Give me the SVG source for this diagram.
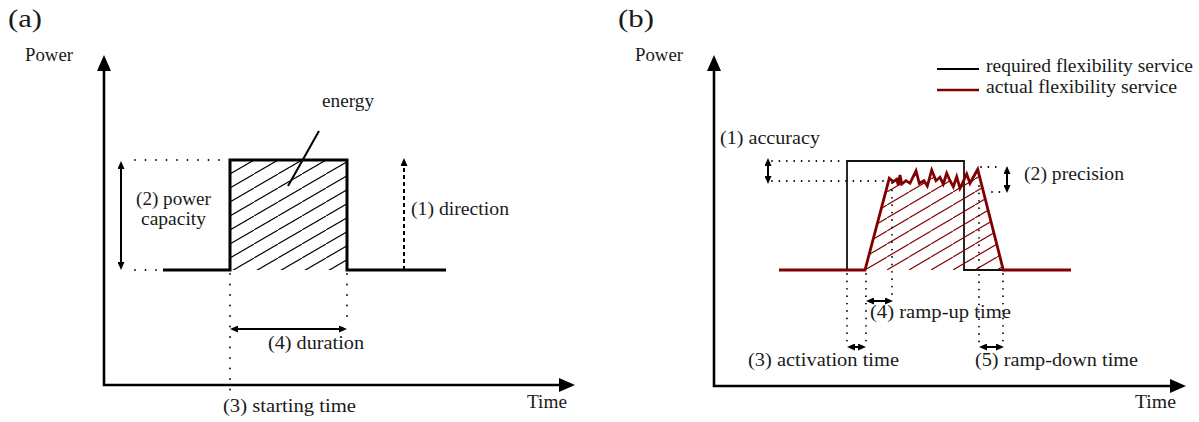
<svg xmlns="http://www.w3.org/2000/svg" width="1199" height="422" viewBox="0 0 1199 422" font-family="Liberation Serif, Times New Roman, serif">
<style>
text{font-size:18.5px;fill:#1a1a1a}
.big{font-size:26px}
.ax{fill:none;stroke:#000;stroke-width:2.6;marker-start:url(#axh);marker-end:url(#axh)}
.dot{fill:none;stroke:#000;stroke-width:1.8;stroke-linecap:round}
.da{stroke-dasharray:0 10.5}
.db{stroke-dasharray:0 7.4}
.arr{fill:none;stroke:#000;stroke-width:2;marker-start:url(#sh);marker-end:url(#sh)}
</style>
<defs>
<marker id="axh" viewBox="0 0 16 14" refX="8" refY="7" markerWidth="16" markerHeight="14" markerUnits="userSpaceOnUse" orient="auto-start-reverse">
<path d="M0,0 L16,7 L0,14 Z" fill="#000"/>
</marker>
<marker id="sh" viewBox="0 0 8 7" refX="4" refY="3.5" markerWidth="8" markerHeight="7" markerUnits="userSpaceOnUse" orient="auto-start-reverse">
<path d="M0,0 L8,3.5 L0,7 Z" fill="#000"/>
</marker>
<pattern id="hatchA" patternUnits="userSpaceOnUse" x="230" y="160" width="24" height="14">
<path d="M-3,15.75 L27,-1.75" stroke="#000" stroke-width="1.1"/>
</pattern>
<pattern id="hatchB" patternUnits="userSpaceOnUse" x="865" y="270" width="22" height="13">
<path d="M-3,14.77 L25,-1.77" stroke="#800000" stroke-width="1.1"/>
</pattern>
</defs>

<g id="panel-a">
<text class="big" x="8" y="27" font-family="Liberation Serif" textLength="34" lengthAdjust="spacingAndGlyphs">(a)</text>
<g id="a-axes">
<path class="ax" d="M104,63 V385 H567"/>
<text x="25" y="61" font-family="Liberation Serif" textLength="48" lengthAdjust="spacingAndGlyphs">Power</text>
<text x="527" y="408" font-family="Liberation Serif" textLength="40" lengthAdjust="spacingAndGlyphs">Time</text>
</g>
<g id="a-pulse">
<rect x="230" y="160" width="117" height="110" fill="url(#hatchA)"/>
<path d="M163,270 H230 V160 H347 V270 H446" fill="none" stroke="#000" stroke-width="3"/>
</g>
<g id="a-energy">
<line x1="319" y1="131" x2="288" y2="186" stroke="#000" stroke-width="2"/>
<text x="322" y="107" font-family="Liberation Serif" textLength="52" lengthAdjust="spacingAndGlyphs">energy</text>
</g>
<g id="a-connectors">
<path class="dot da" d="M135,160 H226"/>
<path class="dot da" d="M135,270 H157"/>
<path class="dot da" d="M230,274 V392"/>
<path class="dot da" d="M347,274 V322"/>
<line class="arr" x1="121" y1="165" x2="121" y2="266"/>
<line class="arr" x1="234" y1="329" x2="343" y2="329"/>
<line x1="404" y1="270" x2="404" y2="162" stroke="#000" stroke-width="2" stroke-dasharray="4 3" marker-end="url(#sh)"/>
</g>
<g id="a-labels" font-family="Liberation Serif">
<text x="136" y="205" textLength="75" lengthAdjust="spacingAndGlyphs">(2) power</text>
<text x="141" y="225" textLength="65" lengthAdjust="spacingAndGlyphs">capacity</text>
<text x="411" y="215" textLength="98" lengthAdjust="spacingAndGlyphs">(1) direction</text>
<text x="268" y="349" textLength="96" lengthAdjust="spacingAndGlyphs">(4) duration</text>
<text x="223" y="412" textLength="133" lengthAdjust="spacingAndGlyphs">(3) starting time</text>
</g>
</g>

<g id="panel-b" font-family="Liberation Serif">
<text class="big" x="618" y="27" textLength="36" lengthAdjust="spacingAndGlyphs">(b)</text>
<g id="b-axes">
<path class="ax" d="M714,63 V386 H1178"/>
<text x="635" y="61" textLength="48" lengthAdjust="spacingAndGlyphs">Power</text>
<text x="1135" y="408" textLength="41" lengthAdjust="spacingAndGlyphs">Time</text>
</g>
<g id="b-legend">
<line x1="937" y1="69" x2="979" y2="69" stroke="#000" stroke-width="2"/>
<text x="986" y="72" textLength="207" lengthAdjust="spacingAndGlyphs">required flexibility service</text>
<line x1="937" y1="90" x2="979" y2="90" stroke="#800000" stroke-width="2.6"/>
<text x="986" y="93" textLength="191" lengthAdjust="spacingAndGlyphs">actual flexibility service</text>
</g>
<g id="b-required">
<path d="M779,270 H847 V161 H964 V270 H1003" fill="none" stroke="#111" stroke-width="1.8"/>
</g>
<g id="b-actual">
<path d="M865,270 L889.3,178.3 L893.3,181.7 L896.7,179.3 L898.3,185 L900,175 L901.7,184 L906,180.7 L910,183.3 L916,170.7 L919.3,183.3 L924,180.7 L927.3,186 L931.7,170 L936,180.7 L940,177.3 L943.3,184 L946.7,173.3 L950,180.7 L953.3,186.7 L956.7,176.7 L960,188.3 L962.7,182.7 L966.7,174 L970,183.3 L974,176 L977.7,169.3 L1003.3,270 Z" fill="url(#hatchB)"/>
<path d="M779,270 H865 L889.3,178.3 L893.3,181.7 L896.7,179.3 L898.3,185 L900,175 L901.7,184 L906,180.7 L910,183.3 L916,170.7 L919.3,183.3 L924,180.7 L927.3,186 L931.7,170 L936,180.7 L940,177.3 L943.3,184 L946.7,173.3 L950,180.7 L953.3,186.7 L956.7,176.7 L960,188.3 L962.7,182.7 L966.7,174 L970,183.3 L974,176 L977.7,169.3 L1003.3,270 H1071" fill="none" stroke="#800000" stroke-width="2.8" stroke-linejoin="miter"/>
</g>
<g id="b-connectors">
<path class="dot db" d="M772,161 H843"/>
<path class="dot db" d="M772,181 H887"/>
<path class="dot db" d="M981,167 H1003"/>
<path class="dot db" d="M992,192 H1003"/>
<path class="dot db" d="M847,274 V346"/>
<path class="dot db" d="M866,274 V346"/>
<path class="dot db" d="M892,183 V298"/>
<path class="dot db" d="M979,186 V346"/>
<path class="dot db" d="M1003,274 V346"/>
<line class="arr" x1="768" y1="162" x2="768" y2="180"/>
<line class="arr" x1="1007" y1="170" x2="1007" y2="189"/>
<line class="arr" x1="870" y1="301" x2="889" y2="301"/>
<line class="arr" x1="851" y1="347" x2="862" y2="347"/>
<line class="arr" x1="983" y1="347" x2="1000" y2="347"/>
</g>
<g id="b-labels">
<text x="720" y="144" textLength="100" lengthAdjust="spacingAndGlyphs">(1) accuracy</text>
<text x="1024" y="180" textLength="100" lengthAdjust="spacingAndGlyphs">(2) precision</text>
<text x="870" y="318" textLength="141" lengthAdjust="spacingAndGlyphs">(4) ramp-up time</text>
<text x="748" y="366" textLength="151" lengthAdjust="spacingAndGlyphs">(3) activation time</text>
<text x="975" y="366" textLength="163" lengthAdjust="spacingAndGlyphs">(5) ramp-down time</text>
</g>
</g>
</svg>
